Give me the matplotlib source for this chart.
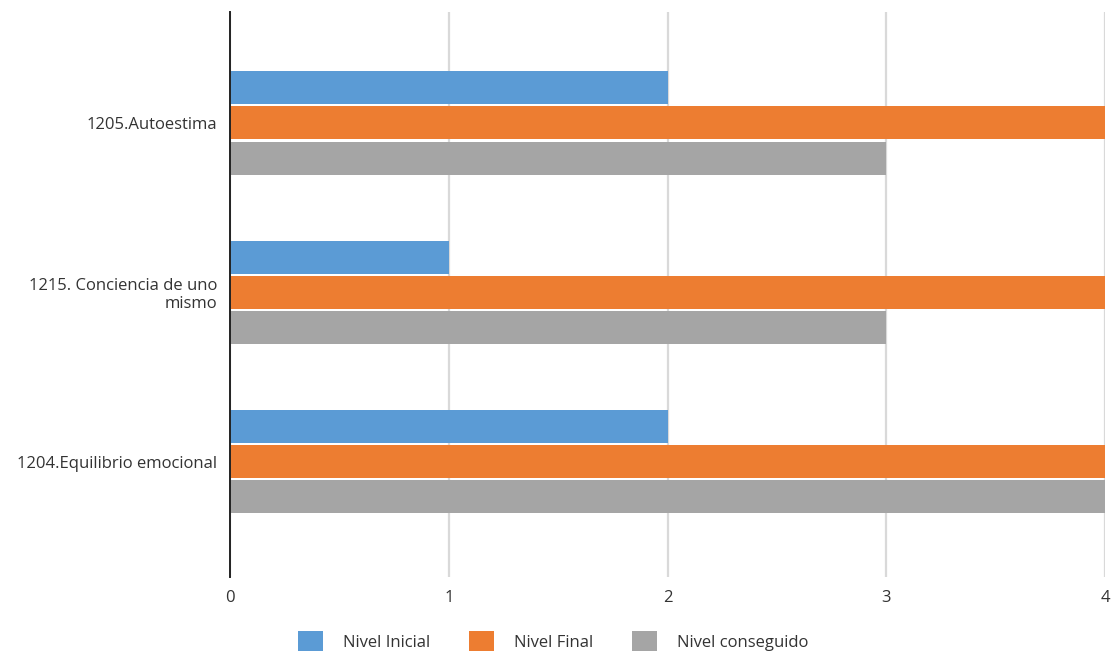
import numpy as np
import matplotlib as mpl
import matplotlib.pyplot as plt

mpl.rc('font', family=['Open Sans', 'DejaVu Sans'], size=12)

categorias = ['1205.Autoestima', '1215. Conciencia de uno\nmismo', '1204.Equilibrio emocional']
series = ['Nivel Inicial', 'Nivel Final', 'Nivel conseguido']
nivel_inicial = [2, 1, 2]
nivel_final = [4, 4, 4]
nivel_conseguido = [3, 3, 4]
colores = ['#5B9BD5', '#ED7D31', '#A5A5A5']

fig = plt.figure(figsize=(11.13, 6.53), dpi=100)
ax = fig.add_axes([230/1113., 1 - 577/653., 875/1113., 565/653.])

y = np.arange(len(categorias))
alto = 0.195
paso = 0.207
for k, (vals, nombre) in enumerate(zip([nivel_inicial, nivel_final, nivel_conseguido], series)):
	ax.barh(y + (k - 1)*paso, vals, height=alto, color=colores[k], label=nombre, zorder=3)

ax.set_xlim(0, 4)
ax.set_ylim(2.68, -0.655)
ax.set_xticks(range(0, 5))
ax.set_yticks(y)
ax.set_yticklabels(categorias, ha='right', multialignment='right', linespacing=1.1)
ax.grid(axis='x', color='#d9d9d9', lw=1.6, zorder=0)
ax.tick_params(axis='both', length=0, colors='#333333', labelcolor='#333333')
ax.tick_params(axis='x', pad=9)
ax.tick_params(axis='y', pad=9)

for s in ['top', 'right', 'bottom']:
	ax.spines[s].set_visible(False)
ax.spines['left'].set_color('#222222')
ax.spines['left'].set_linewidth(1.4)
ax.spines['left'].set_zorder(4)

leg = fig.legend(loc='center', bbox_to_anchor=(0.497, 1 - 641/653.), ncol=3,
	frameon=False, handlelength=1.5, handleheight=1.4, handletextpad=1.2,
	columnspacing=2.3, fontsize=12)
for t in leg.get_texts():
	t.set_color('#333333')

plt.savefig('out.png', dpi=100)
